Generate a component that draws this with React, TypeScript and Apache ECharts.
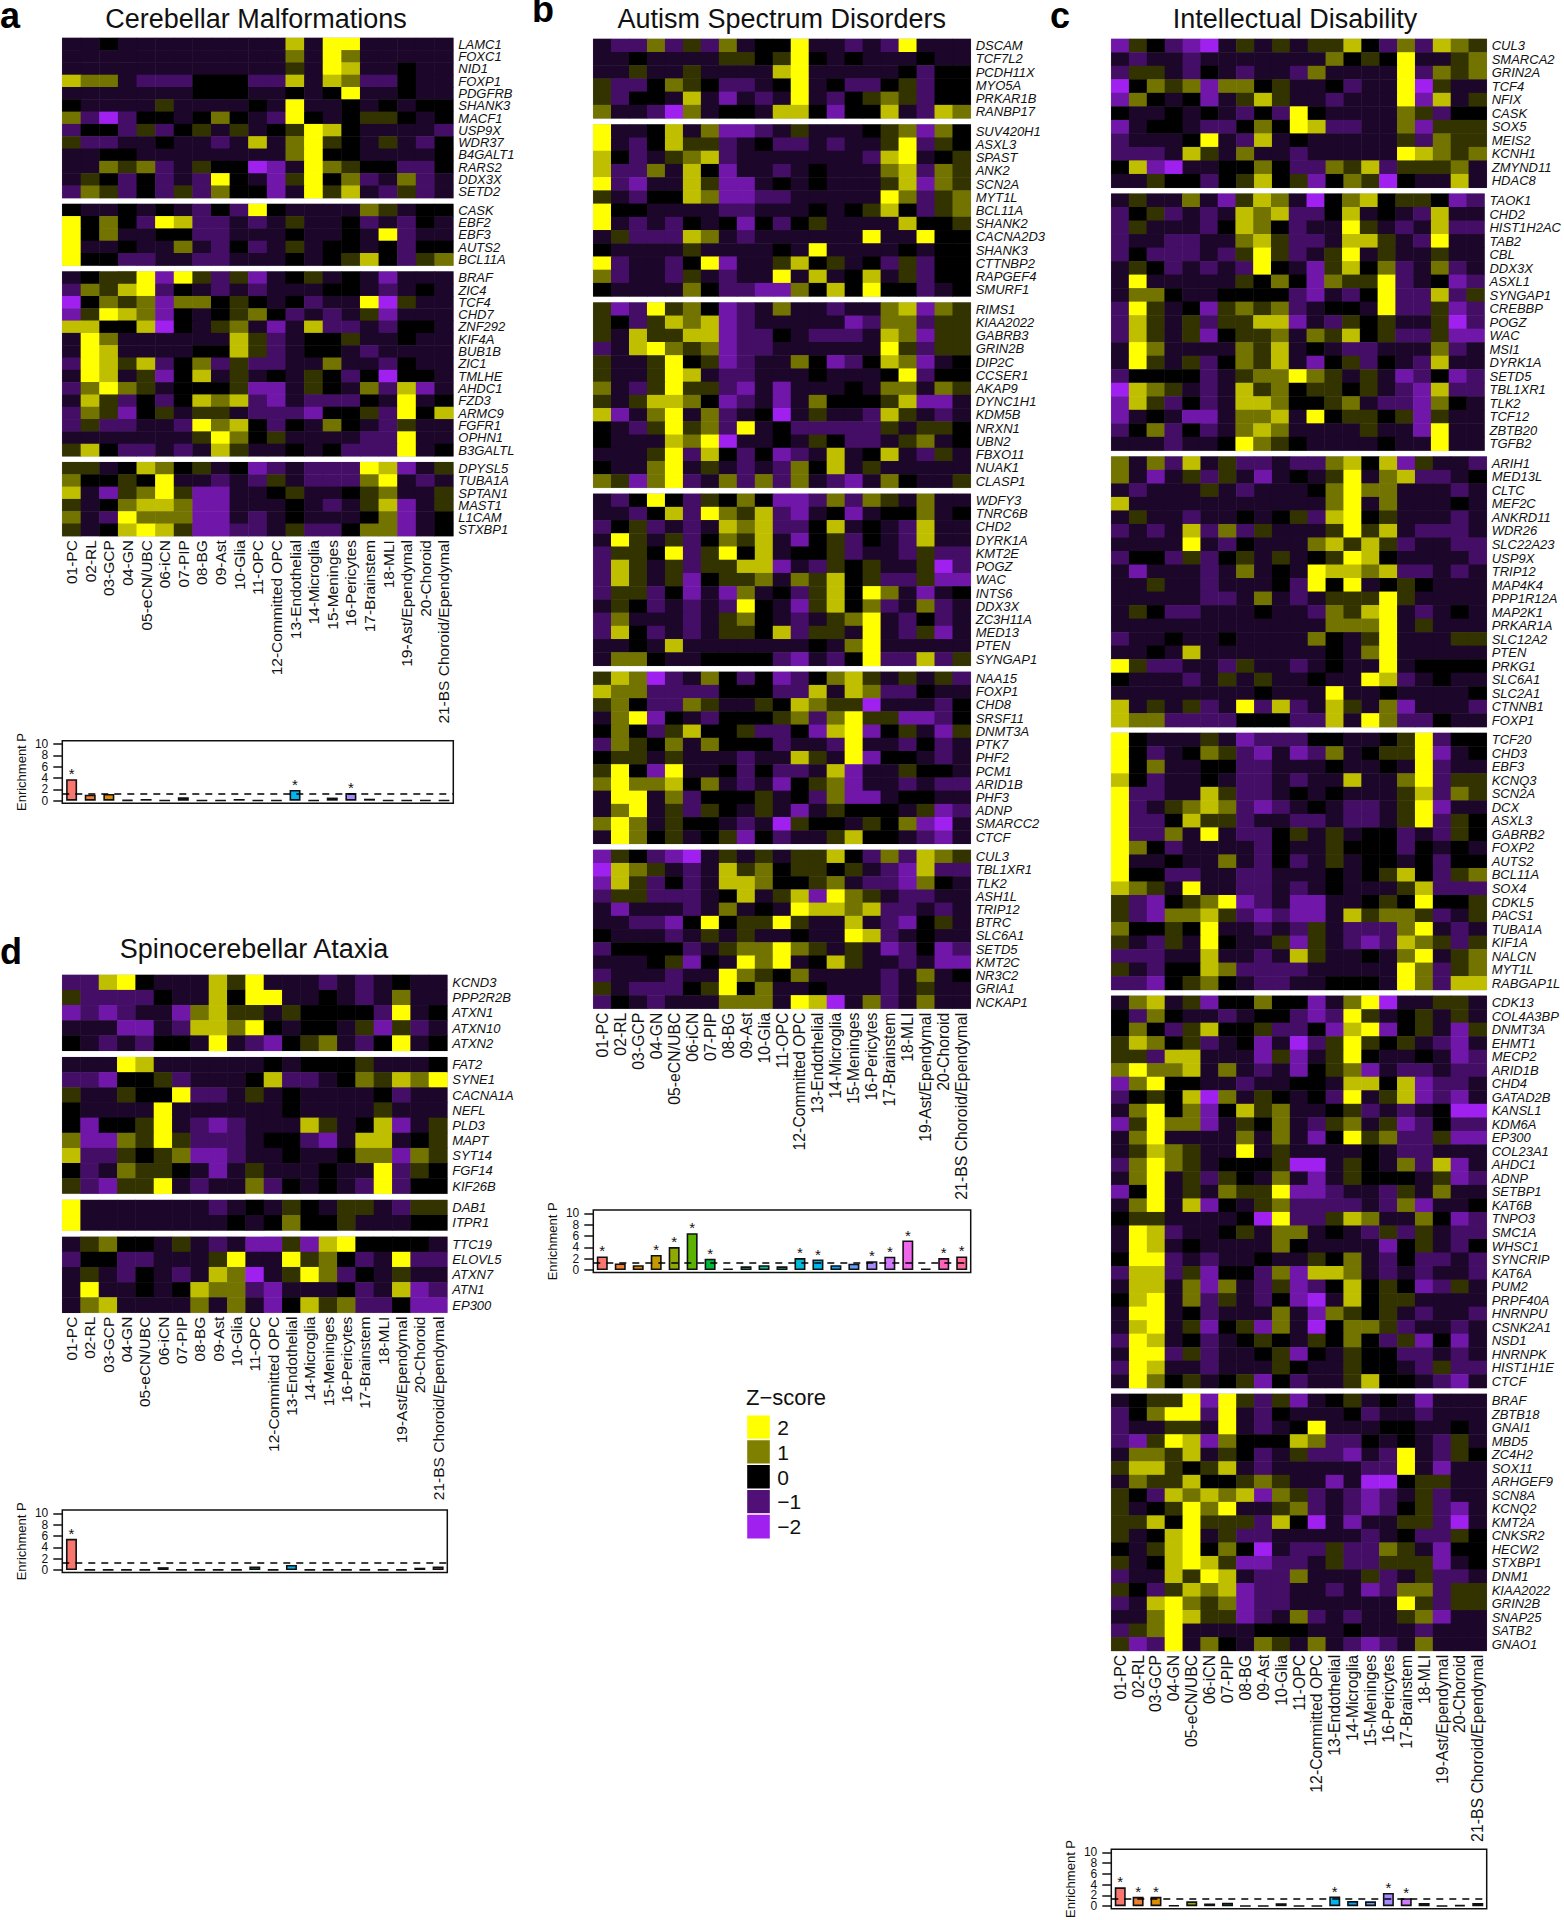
import React, { useEffect, useRef } from "react";
import * as echarts from "echarts";

const cellTypes = ["01-PC","02-RL","03-GCP","04-GN","05-eCN/UBC","06-iCN","07-PIP","08-BG","09-Ast","10-Glia","11-OPC","12-Committed OPC","13-Endothelial","14-Microglia","15-Meninges","16-Pericytes","17-Brainstem","18-MLI","19-Ast/Ependymal","20-Choroid","21-BS Choroid/Ependymal"];
const barColors = ["#F8766D","#EF7F2E","#DE8C00","#C49A00","#8FAA00","#5BB300","#00BA38","#00BF5C","#00C07A","#00C19A","#00BFB8","#00BAD8","#00B4F0","#00A9FF","#619CFF","#A58AFF","#D078FF","#F066EA","#FB61D7","#FF62BC","#FF6A98"];
const legendLabels = ["2","1","0","\u22121","\u22122"];
const legendValues = [2,1,0,-1,-2];
// Estimated z-score for each digit used in the rows below
const zLevels = [-2,-1.4,-0.85,-0.35,0,0.4,0.9,1.5,2];

const a1Genes = ["LAMC1","FOXC1","NID1","FOXP1","PDGFRB","SHANK3","MACF1","USP9X","WDR37","B4GALT1","RARS2","DDX3X","SETD2"];
const a1Rows = ["3343333 33333 7388 33333","3333333 33333 6386 33333","3333333 33333 5387 33433","7663222 44422 7376 22433","3333333 44433 4348 33433","4333353 33343 8334 34344","6202443 46432 8434 55434","2442524 53534 5874 33332","5223343 32373 6854 35324","3344333 33333 6844 33334","3365623 54401 3865 44224","3542423 28431 5846 23623","2652425 26441 3857 32523"];
const a2Genes = ["CASK","EBF2","EBF3","AUTS2","BCL11A"];
const a2Rows = ["4334343 24284 3333 65344","8464287 22323 5334 23243","8463344 22333 4334 38233","8334336 32423 5344 34244","8442233 22333 4345 74256"];
const a3Genes = ["BRAF","ZIC4","TCF4","CHD7","ZNF292","KIF4A","BUB1B","ZIC1","TMLHE","AHDC1","FZD3","ARMC9","FGFR1","OPHN1","B3GALTL"];
const a3Rows = ["3455818 52513 4534 31333","2657824 32323 3344 32343","0465616 64543 4233 80533","1587614 34564 2323 51333","7744704 35631 3722 32443","3863333 33752 3445 33433","3873333 44752 3443 23333","2875724 62522 3363 32433","3873514 73534 3542 40443","2686534 44511 3543 62713","3752424 76721 3222 43834","2651453 55322 2144 52847","2522332 86742 4364 32533","3333333 58645 3333 22833","5742232 37533 4342 22834"];
const a4Genes = ["DPYSL5","TUBA1A","SPTAN1","MAST1","L1CAM","STXBP1"];
const a4Rows = ["5534764 53412 3222 87135","6445483 32325 3222 68323","7315685 11334 5334 56335","5346776 11333 4323 57135","6328666 11323 4333 46134","5347875 11223 5224 66134"];

const b1Genes = ["DSCAM","TCF7L2","PCDH11X","MYO5A","PRKAR1B","RANBP17"];
const b1Rows = ["3226252 63448 3323 28333","3343333 55458 4343 33433","3353353 33378 3333 34244","5224654 22348 3422 45244","5244373 13238 3245 65244","6332063 44377 4144 73276"];
const b2Genes = ["SUV420H1","ASXL3","SPAST","ANK2","SCN2A","MYT1L","BCL11A","SHANK2","CACNA2D3","SHANK3","CTTNBP2","RAPGEF4","SMURF1"];
const b2Rows = ["8334736 11235 3334 56164","8324755 23422 3233 58254","7423567 23333 3332 78345","7226374 13323 4333 67265","8213375 11343 4333 57165","5324476 11223 3333 86256","8443333 22333 4345 74256","8323243 41424 5333 37445","3522276 32333 3338 33844","4333353 33343 8333 34344","8233248 13357 4534 25244","6233253 23383 7347 35244","4333364 22116 4748 44234"];
const b3Genes = ["RIMS1","KIAA2022","GABRB3","GRIN2B","DIP2C","CCSER1","AKAP9","DYNC1H1","KDM5B","NRXN1","UBN2","FBXO11","NUAK1","CLASP1"];
const b3Rows = ["5128564 12363 3233 67165","5425767 12333 3312 66255","5375577 12243 2223 76155","2378656 12233 3333 85255","5335845 12336 4124 76134","5335873 22333 4333 48244","6325855 21313 3343 66365","5357764 12313 6444 57113","7136836 23403 5332 75323","4325856 28342 2222 53554","4333768 03343 5422 35634","3335827 42412 3734 73253","4336835 32326 4735 33333","6516823 62626 3213 64335"];
const b4Genes = ["WDFY3","TNRC6B","CHD2","DYRK1A","KMT2E","POGZ","WAC","INTS6","DDX3X","ZC3H11A","MED13","PTEN","SYNGAP1"];
const b4Rows = ["3248425 46411 2626 53633","3324728 65721 3413 44634","2452323 76722 4734 32733","3853524 65731 4524 32733","2554825 84734 4523 32522","2753525 57713 2545 33502","2753514 55636 5745 22511","2552413 16342 5748 63134","3542323 28431 5746 23623","2633323 56432 3568 32423","2742323 55472 5538 32513","3343733 33333 4368 33333","3664334 44421 3248 22725"];
const b5Genes = ["NAA15","FOXP1","CHD8","SRSF11","DNMT3A","PTK7","PHF2","PCM1","ARID1B","PHF3","ADNP","SMARCC2","CTCF"];
const b5Rows = ["5760236 42412 4675 35352","7662222 44422 7376 22433","5642265 33547 6550 33324","3681432 44456 2685 51124","4642574 45224 1781 45315","2654636 44423 3283 32423","4553533 32337 5381 44323","5841833 42422 3713 35443","6866746 32314 5613 32322","3883624 44534 2611 34433","3683525 43531 3544 43512","6863544 32305 4435 46103","3864534 51423 3574 43213"];
const b6Genes = ["CUL3","TBL1XR1","TLK2","ASH1L","TRIP12","BTRC","SLC6A1","SETD5","KMT2C","NR3C2","GRIA1","NCKAP1"];
const b6Rows = ["1542103 53535 5742 62765","0765323 75645 5453 21722","1752423 77644 5632 21643","2552223 47357 1865 32233","3133323 63438 7767 22323","3322148 45585 3373 21453","4333235 35334 3387 23433","2444423 56686 5353 12412","3334514 38683 4753 32311","2333233 86546 3333 23634","5322245 84633 4333 23533","2432333 66638 7036 23633"];

const c1Genes = ["CUL3","SMARCA2","GRIN2A","TCF4","NFIX","CASK","SOX5","MEIS2","KCNH1","ZMYND11","HDAC8"];
const c1Rows = ["1542103 53535 5742 62765","3233233 33333 6454 83356","2553243 23326 3333 82656","0465616 64533 4233 80533","1643413 57533 2333 81735","4334343 24284 3333 65244","1344322 46487 2233 61555","2333483 27343 3333 52655","2223753 63323 3333 87656","4710334 46422 6572 55563","3354424 57451 4650 43373"];
const c2Genes = ["TAOK1","CHD2","HIST1H2AC","TAB2","CBL","DDX3X","ASXL1","SYNGAP1","CREBBP","POGZ","WAC","MSI1","DYRK1A","SETD5","TBL1XR1","TLK2","TCF12","ZBTB20","TGFB2"];
const c2Rows = ["3533631 57630 4674 55412","2452323 76722 4734 32733","2533324 76423 3853 23722","2332233 67522 3775 32833","2422232 58523 5835 33533","3542323 28431 5746 23623","3833333 54641 6558 23412","3664334 44421 3248 22725","2853415 65623 4438 22512","2753525 57713 2545 33502","2753514 55636 5745 22511","3863333 65734 3223 33623","3853524 65731 4524 32733","2444423 56686 5353 12412","0765323 75645 5453 21722","1752423 77644 5632 21643","1343113 66738 4554 51533","2462423 67633 3353 31833","3332334 86543 3334 33833"];
const c3Genes = ["ARIH1","MED13L","CLTC","MEF2C","ANKRD11","WDR26","SLC22A23","USP9X","TRIP12","MAP4K4","PPP1R12A","MAP2K1","PRKAR1A","SLC12A2","PTEN","PRKG1","SLC6A1","SLC2A1","CTNNB1","FOXP1"];
const c3Rows = ["6362735 22322 6747 15332","6313525 31343 5836 72234","3233353 23334 6866 33323","7333333 33333 6836 33343","3533233 43452 7845 33323","2323726 25333 5857 32223","3333832 43336 7575 23322","2442524 53534 5874 33332","3133323 63438 7767 22323","3353323 33428 4834 54333","3333322 36323 5558 53333","3542233 34332 6578 32343","3333333 33333 6668 35333","2334334 33336 4358 33355","3343733 33333 4368 33333","8522332 53323 4338 34444","4333235 35334 3387 23433","3333333 34333 8334 33334","7353523 82723 7536 13332","7662222 44422 7386 22433"];
const c4Genes = ["TCF20","CHD3","EBF3","KCNQ3","SCN2A","DCX","ASXL3","GABRB2","FOXP2","AUTS2","BCL11A","SOX4","CDKL5","PACS1","TUBA1A","KIF1A","NALCN","MYT1L","RABGAP1L"];
const c4Rows = ["8433353 12224 4334 58244","8423465 21312 6345 58134","8463344 22333 4334 38233","7423343 22323 3733 68255","8223375 22343 4333 57265","8235676 21234 3223 58133","8224755 23322 3223 58254","8226383 22453 5344 23254","8642333 32433 5444 24343","8334336 32423 5344 34244","8442233 22333 4345 74256","7653833 22323 4333 57222","5214568 12311 3345 48445","5216675 21211 3756 65235","6445483 32325 3222 68323","5325384 33515 3212 76525","2223373 32375 3343 68356","5324476 22223 3333 86256","2214564 32233 4443 86277"];
const c5Genes = ["CDK13","COL4A3BP","DNMT3A","EHMT1","MECP2","ARID1B","CHD4","GATAD2B","KANSL1","KDM6A","EP300","COL23A1","AHDC1","ADNP","SETBP1","KAT6B","TNPO3","SMC1A","WHSC1","SYNCRIP","KAT6A","PUM2","PRPF40A","HNRNPU","CSNK2A1","NSD1","HNRNPK","HIST1H1E","CTCF"];
const c5Rows = ["3673514 46441 3680 33553","4264332 34421 2853 45353","4642574 45224 1781 45315","5764523 41302 5854 53213","5527733 31513 5843 34312","6866736 32314 5613 22322","1684433 23344 3774 71223","2454706 35434 2835 71213","3684614 75633 4523 23400","1586613 54632 5635 12422","3683333 63631 4856 22511","3576533 83533 3343 22333","2686534 44500 3543 62713","3683525 43631 3544 43512","1483536 55811 2332 53633","3683714 35622 2232 61334","4553333 40822 5763 36412","3872334 53663 4325 25322","3873433 33643 3331 45324","4882323 34335 4632 42232","2772514 42617 7632 32332","3773616 32512 4745 41253","4783625 32410 3745 53333","3883423 33631 6545 32332","3783514 51630 4665 23323","2873423 45435 4642 51413","3882523 34514 3544 22323","2873323 33543 3544 32522","3864534 51423 3574 43213"];
const c6Genes = ["BRAF","ZBTB18","GNAI1","MBD5","ZC4H2","SOX11","ARHGEF9","SCN8A","KCNQ2","KMT2A","CNKSR2","HECW2","STXBP1","DNM1","KIAA2022","GRIN2B","SNAP25","SATB2","GNAO1"];
const c6Rows = ["3455818 52513 4534 31333","2468828 32433 3423 32333","2335538 32348 3334 43343","2158716 44476 2243 43253","3665735 42352 2132 83254","5775457 32333 3322 83133","3655744 56533 1300 45533","5427676 71652 3212 35233","5345868 33562 3212 45213","5574855 52740 3133 55203","5347835 22333 3323 42254","4357846 40322 5226 53144","5347875 11223 5225 55134","2337587 32263 3352 35223","5425767 12233 2312 66255","2378656 12233 3333 85255","3368755 12362 3233 56133","2568333 34443 3433 32333","5128364 36536 3212 36333"];

const d1Genes = ["KCND3","PPP2R2B","ATXN1","ATXN10","ATXN2"];
const d1Rows = ["2278433 37583 3323 23433","5222243 37488 3343 23633","1212331 67553 5444 42834","3331132 77684 3443 51523","4323244 38321 4563 24834"];
const d2Genes = ["FAT2","SYNE1","CACNA1A","NEFL","PLD3","MAPT","SYT14","FGF14","KIF26B"];
const d2Rows = ["3338733 33334 3444 53334","2214452 33347 2234 65768","5335448 22353 4333 34233","4333383 33333 4333 35333","4144583 21233 3753 47135","6116585 22234 4213 77345","7225456 11233 4334 66165","4236554 31353 3343 38254","5215583 23362 4343 28244"];
const d3Genes = ["DAB1","ITPR1"];
const d3Rows = ["8333333 32343 5435 53255","8333333 33434 6445 33344"];
const d4Genes = ["TTC19","ELOVL5","ATXN7","ATN1","EP300"];
const d4Rows = ["3564435 32311 5178 44443","2442233 35833 8564 23822","3532432 37603 5862 43533","3833434 76621 3334 23712","3673333 63631 4756 22411"];

const aEnrichment = [3.8,1.05,1.2,0.1,0.3,0.05,0.6,0.05,0.05,0.3,0.05,0.05,1.9,0.05,0.55,1.35,0.35,0.05,0.05,0.05,0.05];
const aStars = [0,12,15];
const bEnrichment = [2.4,1.15,0.85,2.65,4.05,6.5,2.0,0.25,0.65,0.85,0.65,2.1,1.85,0.85,1.1,1.55,2.35,5.2,0.25,2.1,2.4];
const bStars = [0,3,4,5,6,11,12,15,16,17,19,20];
const cEnrichment = [3.5,1.75,1.75,0.15,0.9,0.5,0.65,0.05,0.05,0.55,0.05,0.05,1.8,0.95,0.9,2.45,1.5,0.6,0.05,0.2,0.6];
const cStars = [0,1,2,12,15,16];
const dEnrichment = [5.5,0.05,0.05,0.05,0.05,0.5,0.05,0.05,0.05,0.05,0.6,0.05,0.9,0.05,0.05,0.05,0.05,0.05,0.05,0.4,0.6];
const dStars = [0];
const threshold = 1.3;
const enrichTicks = [0,2,4,6,8,10];
const enrichMin = -0.46;
const enrichMax = 10.58;

const FONT = "Liberation Sans";

type Panel = {
  left: number; width: number; top: number; rowH: number; gap: number; labelSize: number;
  blocks: [string[], string[]][];
  box: number; enrichment: number[]; stars: number[];
};

const panels: Panel[] = [
  { left: 62.3, width: 391, top: 38, rowH: 12.31, gap: 6, labelSize: 15.5,
    blocks: [[a1Genes,a1Rows],[a2Genes,a2Rows],[a3Genes,a3Rows],[a4Genes,a4Rows]],
    box: 740.7, enrichment: aEnrichment, stars: aStars },
  { left: 593.3, width: 377.4, top: 39, rowH: 13.22, gap: 6.2, labelSize: 15.8,
    blocks: [[b1Genes,b1Rows],[b2Genes,b2Rows],[b3Genes,b3Rows],[b4Genes,b4Rows],[b5Genes,b5Rows],[b6Genes,b6Rows]],
    box: 1210, enrichment: bEnrichment, stars: bStars },
  { left: 1111.3, width: 375.4, top: 39, rowH: 13.52, gap: 6, labelSize: 15.8,
    blocks: [[c1Genes,c1Rows],[c2Genes,c2Rows],[c3Genes,c3Rows],[c4Genes,c4Rows],[c5Genes,c5Rows],[c6Genes,c6Rows]],
    box: 1849.3, enrichment: cEnrichment, stars: cStars },
  { left: 62.3, width: 385, top: 975, rowH: 15.15, gap: 6.5, labelSize: 15.5,
    blocks: [[d1Genes,d1Rows],[d2Genes,d2Rows],[d3Genes,d3Rows],[d4Genes,d4Rows]],
    box: 1510, enrichment: dEnrichment, stars: dStars },
];

const titles = [
  { text: "Cerebellar Malformations", x: 256, y: 19 },
  { text: "Autism Spectrum Disorders", x: 781.7, y: 19 },
  { text: "Intellectual Disability", x: 1295, y: 19 },
  { text: "Spinocerebellar Ataxia", x: 254, y: 949 },
];
const letters = [
  { text: "a", x: 0, y: 15.4 },
  { text: "b", x: 532, y: 9.4 },
  { text: "c", x: 1050, y: 15.4 },
  { text: "d", x: 0, y: 951.4 },
];

function buildOption() {
  const grids: any[] = [], xAxes: any[] = [], yAxes: any[] = [], series: any[] = [];
  const heatIdx: number[] = [];

  panels.forEach((p) => {
    let y = p.top;
    p.blocks.forEach(([genes, rows], bi) => {
      const h = genes.length * p.rowH;
      const gi = grids.length;
      const last = bi === p.blocks.length - 1;
      grids.push({ left: p.left, top: y, width: p.width, height: h, show: true, borderColor: "#cfcbd4", borderWidth: 1, backgroundColor: "transparent" });
      xAxes.push({
        type: "category", gridIndex: gi, data: cellTypes, position: "bottom",
        axisLine: { show: false }, axisTick: { show: false }, splitLine: { show: false },
        axisLabel: last ? { show: true, interval: 0, rotate: 90, margin: 4, fontSize: p.labelSize, color: "#111", fontFamily: FONT } : { show: false },
      });
      yAxes.push({
        type: "category", gridIndex: gi, data: genes, inverse: true, position: "right",
        axisLine: { show: false }, axisTick: { show: false }, splitLine: { show: false },
        axisLabel: { show: true, interval: 0, margin: 5, fontSize: 13, fontStyle: "italic", color: "#111", fontFamily: FONT },
      });
      const data: number[][] = [];
      rows.forEach((r, ry) => {
        r.replace(/ /g, "").split("").forEach((ch, cx) => data.push([cx, ry, zLevels[Number(ch)]]));
      });
      heatIdx.push(series.length);
      series.push({ type: "heatmap", xAxisIndex: gi, yAxisIndex: gi, data, progressive: 0, itemStyle: { borderWidth: 0 }, emphasis: { disabled: true } });
      y += h + p.gap;
    });

    // enrichment bars
    const gi = grids.length;
    grids.push({ left: p.left, top: p.box, width: p.width, height: 62.6, show: true, borderColor: "#111", borderWidth: 1.5, backgroundColor: "transparent" });
    xAxes.push({ type: "category", gridIndex: gi, data: cellTypes, axisLine: { show: false }, axisTick: { show: false }, axisLabel: { show: false }, splitLine: { show: false } });
    yAxes.push({
      type: "value", gridIndex: gi, min: enrichMin, max: enrichMax, position: "left",
      name: "Enrichment P", nameLocation: "middle", nameRotate: 90, nameGap: 34, nameMoveOverlap: false,
      nameTextStyle: { fontSize: 13, color: "#111", fontFamily: FONT },
      axisLine: { show: false }, splitLine: { show: false },
      axisTick: { show: true, length: 9, customValues: enrichTicks, lineStyle: { color: "#111", width: 1.5 } },
      axisLabel: {
        show: true,
        customValues: [enrichMin, ...enrichTicks, enrichMax],
        formatter: (v: number) => (enrichTicks.includes(v) ? String(v) : ""),
        showMinLabel: true, showMaxLabel: true, hideOverlap: false, margin: 14, fontSize: 12, lineHeight: 9, color: "#111", fontFamily: FONT,
      },
    });
    series.push({
      type: "bar", xAxisIndex: gi, yAxisIndex: gi, barWidth: 11, silent: true,
      data: p.enrichment.map((v, i) => ({
        value: v,
        itemStyle: { color: barColors[i], borderColor: "#111", borderWidth: 1.6 },
        label: p.stars.includes(i)
          ? { show: true, formatter: "*", position: "top", distance: -2, fontSize: 15, color: "#111", fontFamily: FONT }
          : { show: false },
      })),
      markLine: {
        silent: true, symbol: "none", animation: false, label: { show: false },
        lineStyle: { type: [7, 6], color: "#000", width: 1.5 },
        data: [{ yAxis: threshold }],
      },
    });
  });

  // Z-score legend
  const lg = grids.length;
  grids.push({ left: 746.7, top: 1415, width: 23.6, height: 124 });
  xAxes.push({ type: "category", gridIndex: lg, data: ["Z"], show: false });
  yAxes.push({
    type: "category", gridIndex: lg, data: legendLabels, inverse: true, position: "right",
    axisLine: { show: false }, axisTick: { show: false }, splitLine: { show: false },
    axisLabel: { show: true, interval: 0, margin: 7, fontSize: 21, color: "#111", fontFamily: FONT },
  });
  heatIdx.push(series.length);
  series.push({
    type: "heatmap", xAxisIndex: lg, yAxisIndex: lg, emphasis: { disabled: true },
    data: legendValues.map((v, i) => [0, i, v]),
    itemStyle: { borderColor: "#fff", borderWidth: 1.5 },
  });

  const graphic: any[] = [
    ...titles.map((t) => ({
      type: "text", x: t.x, y: t.y,
      style: { text: t.text, fontSize: 27, fontFamily: FONT, fill: "#111", align: "center", verticalAlign: "middle" },
    })),
    ...letters.map((t) => ({
      type: "text", x: t.x, y: t.y,
      style: { text: t.text, fontSize: 36, lineHeight: 28, fontWeight: "bold", fontFamily: FONT, fill: "#000", align: "left", verticalAlign: "middle" },
    })),
    {
      type: "text", x: 746, y: 1397,
      style: { text: "Z\u2212score", fontSize: 22, fontFamily: FONT, fill: "#111", align: "left", verticalAlign: "middle" },
    },
  ];

  return {
    animation: false,
    backgroundColor: "#fff",
    textStyle: { fontFamily: FONT },
    grid: grids, xAxis: xAxes, yAxis: yAxes, series,
    visualMap: {
      type: "continuous", show: false, min: -2, max: 2, seriesIndex: heatIdx, calculable: false,
      inRange: { color: ["#A020F0", "#000000", "#FFFF00"] },
    },
    graphic,
  };
}

export default function App() {
  const ref = useRef<HTMLDivElement>(null);
  useEffect(() => {
    const chart = echarts.init(ref.current!, undefined, { renderer: "svg", width: 1564, height: 1920 });
    chart.setOption(buildOption() as any);
    return () => chart.dispose();
  }, []);
  return <div ref={ref} style={{ position: "absolute", left: 0, top: 0, width: 1564, height: 1920 }} />;
}
